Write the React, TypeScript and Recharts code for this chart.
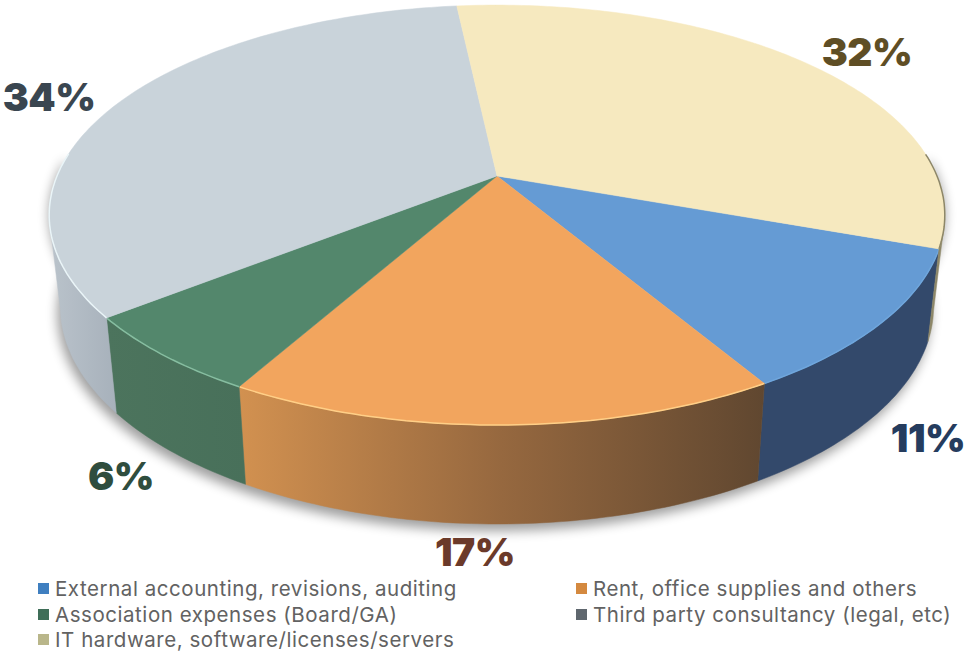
import { PieChart, Pie, Legend } from 'recharts'

const categories = [
  'External accounting, revisions, auditing',
  'Rent, office supplies and others',
  'Association expenses (Board/GA)',
  'Third party consultancy (legal, etc)',
  'IT hardware, software/licenses/servers',
]
const shares = [11.0, 16.7, 6.2, 33.9, 32.2]

const topColors = ['#659bd4', '#f2a55e', '#53876c', '#c9d3da', '#f6e9bf']
const wallFills = ['#33496b', 'url(#wall-orange)', 'url(#wall-green)', 'url(#wall-gray)', '#8d8768']
const rimColors = ['#6fa6dc', '#ffcf87', '#86bda0', '#eaf5f8', '#8d8768']
const swatchColors = ['#3f7fc0', '#d4893f', '#3f6e58', '#5f676e', '#b9b68a']
const labelColors = ['#253c5e', '#6b3a2a', '#2f4d3e', '#3a4650', '#5f4e25']
const labelAnchors = [
  [928, 452],
  [475, 566],
  [121, 490],
  [49, 111],
  [867, 66],
]

const tableData = categories.map((name, i) => ({ name, value: shares[i], fill: topColors[i] }))
const shadowData = [{ name: 'shadow', value: 1 }]

// perspective of the pie plane, fitted on the picture
const CX = 497
const CY = 176
const A = 440
const B = 202.7
const K = 0.186
// lower face of the disc
const BOTTOM_SCALE_X = 0.975
const BOTTOM_B = 210
const BOTTOM_DROP = 90

const rad = (deg: number) => (deg * Math.PI) / 180

function topPoint(deg: number, cx: number, cy: number) {
  const u = Math.cos(rad(deg))
  const v = Math.sin(rad(deg))
  const w = 1 + K * v
  return [cx + (A * u) / w, cy - (B * v) / w]
}

function bottomPoint(deg: number, cx: number, cy: number) {
  const u = Math.cos(rad(deg))
  const v = Math.sin(rad(deg))
  const w = 1 + K * v
  return [cx + (A * BOTTOM_SCALE_X * u) / w, cy + BOTTOM_DROP - (BOTTOM_B * v) / w]
}

function sweep(start: number, end: number) {
  const n = Math.max(2, Math.ceil(Math.abs(end - start)))
  return Array.from({ length: n + 1 }, (_, i) => start + ((end - start) * i) / n)
}

const toPath = (pts: number[][]) =>
  pts.map((p, i) => `${i ? 'L' : 'M'}${p[0].toFixed(1)} ${p[1].toFixed(1)}`).join(' ')

function DiscSlice(props: any) {
  const { cx, cy, startAngle, endAngle, index, fill } = props
  const angles = sweep(startAngle, endAngle)
  const front = angles.filter((a) => Math.sin(rad(a)) <= -K)
  const rim = angles.filter((a) => Math.sin(rad(a)) <= 0.12)
  const topEdge = front.map((a) => topPoint(a, cx, cy))
  const lowEdge = front.map((a) => bottomPoint(a, cx, cy)).reverse()
  const top = [[cx, cy], ...angles.map((a) => topPoint(a, cx, cy))]

  return (
    <g>
      {front.length > 1 && (
        <path d={toPath([...topEdge, ...lowEdge]) + ' Z'} fill={wallFills[index]} stroke={wallFills[index]} strokeWidth={0.5} />
      )}
      <path d={toPath(top) + ' Z'} fill={fill} stroke={fill} strokeWidth={0.5} />
      {rim.length > 1 && (
        <path d={toPath(rim.map((a) => topPoint(a, cx, cy)))} fill="none" stroke={rimColors[index]} strokeWidth={1.5} />
      )}
    </g>
  )
}

// soft shadow under the front of the disc, a slice of its own so it sits behind the others
function DiscShadow({ cx, cy }: any) {
  const angles = sweep(-185, 5)
  const d =
    toPath([
      ...angles.map((a) => topPoint(a, cx, cy)),
      ...angles.map((a) => bottomPoint(a, cx - 3, cy + 7)).reverse(),
    ]) + ' Z'
  return <path d={d} fill="#000" opacity={0.38} style={{ filter: 'blur(6px)' }} />
}

function PctLabel(props: any) {
  const { index, value } = props
  const [x, y] = labelAnchors[index]
  return (
    <text
      x={x}
      y={y}
      textAnchor="middle"
      fill={labelColors[index]}
      style={{ fontFamily: 'Inter', fontWeight: 900, fontSize: 39, letterSpacing: -0.5 }}
    >
      {Math.round(value)}%
    </text>
  )
}

function LegendBlock({ payload }: any) {
  const items = (payload ?? []).filter((entry: any) => categories.includes(entry.value))
  return (
    <div
      style={{
        display: 'grid',
        gridTemplateColumns: '538px 380px',
        gridAutoRows: '25.5px',
        fontFamily: 'Inter',
        fontSize: 20.5,
        letterSpacing: 0.55,
        color: '#626262',
      }}
    >
      {items.map((entry: any, i: number) => (
        <div key={entry.value} style={{ display: 'flex', alignItems: 'center', whiteSpace: 'nowrap' }}>
          <span style={{ width: 11, height: 11, background: swatchColors[i], marginRight: 6, flex: 'none' }} />
          {entry.value}
        </div>
      ))}
    </div>
  )
}

export default function App() {
  return (
    <div style={{ position: 'absolute', left: 0, top: 0, width: 964, height: 653, background: '#fff' }}>
      <PieChart width={964} height={653} margin={{ top: 0, right: 0, bottom: 0, left: 0 }}>
        <defs>
          <linearGradient id="wall-orange" x1="0" y1="0" x2="1" y2="0">
            <stop offset="0%" stopColor="#d29150" />
            <stop offset="50%" stopColor="#96683f" />
            <stop offset="100%" stopColor="#604730" />
          </linearGradient>
          <linearGradient id="wall-green" x1="0" y1="0" x2="1" y2="0">
            <stop offset="0%" stopColor="#4c745d" />
            <stop offset="100%" stopColor="#48705a" />
          </linearGradient>
          <linearGradient id="wall-gray" x1="0" y1="0" x2="1" y2="0">
            <stop offset="0%" stopColor="#bac3cb" />
            <stop offset="100%" stopColor="#a7b1bb" />
          </linearGradient>
        </defs>
        <Pie
          data={shadowData}
          dataKey="value"
          nameKey="name"
          cx={CX}
          cy={CY}
          outerRadius={200}
          stroke="none"
          shape={DiscShadow}
          legendType="none"
          isAnimationActive={false}
        />
        <Pie
          data={tableData}
          dataKey="value"
          nameKey="name"
          cx={CX}
          cy={CY}
          outerRadius={200}
          startAngle={-19.7}
          endAngle={-379.7}
          stroke="none"
          shape={DiscSlice}
          label={PctLabel}
          labelLine={false}
          isAnimationActive={false}
        />
        <Legend
          content={<LegendBlock />}
          itemSorter={null}
          wrapperStyle={{ position: 'absolute', left: 38, top: 576, width: 920, bottom: 'auto' }}
        />
      </PieChart>
    </div>
  )
}
